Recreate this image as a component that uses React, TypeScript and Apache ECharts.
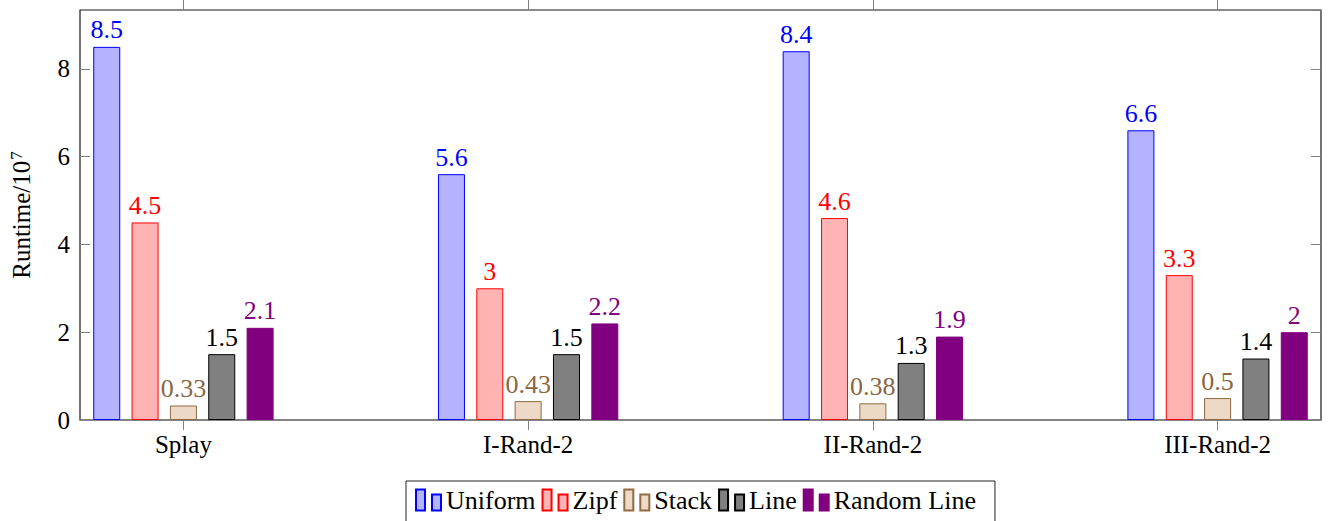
import React, { useEffect, useRef } from "react";
import * as echarts from "echarts";

const categories = ["Splay", "I-Rand-2", "II-Rand-2", "III-Rand-2"];
const uniform = [8.5, 5.6, 8.4, 6.6];
const zipf = [4.5, 3, 4.6, 3.3];
const stack = [0.33, 0.43, 0.38, 0.5];
const line = [1.5, 1.5, 1.3, 1.4];
const randomLine = [2.1, 2.2, 1.9, 2];
const yTicks = [0, 2, 4, 6, 8];

const FONT = "Liberation Serif";

const seriesDefs = [
  { name: "Uniform", data: uniform, fill: "#b3b3ff", edge: "#0000ff", label: "#0000ff" },
  { name: "Zipf", data: zipf, fill: "#ffb3b3", edge: "#ff0000", label: "#ff0000" },
  { name: "Stack", data: stack, fill: "#ecd9c6", edge: "#8f6a45", label: "#8a6642" },
  { name: "Line", data: line, fill: "#808080", edge: "#000000", label: "#000000" },
  { name: "Random Line", data: randomLine, fill: "#800080", edge: "#800080", label: "#800080" },
];

const legendIcon = "path://M0,0H9V21H0Z M16,5H25V21H16Z";

export default function App() {
  const ref = useRef<HTMLDivElement>(null);
  useEffect(() => {
    document.body.style.margin = "0";
    const chart = echarts.init(ref.current!, null, { renderer: "svg" });
    const catIdx = categories.map((_, i) => i);
    chart.setOption({
      animation: false,
      backgroundColor: "#ffffff",
      textStyle: { fontFamily: FONT },
      grid: {
        left: 80,
        top: 10,
        width: 1241,
        height: 410,
        show: true,
        borderColor: "#1a1a1a",
        borderWidth: 1.2,
        backgroundColor: "transparent",
      },
      legend: {
        left: 406,
        top: 481,
        padding: [6, 19, 14, 9],
        borderColor: "#222",
        borderWidth: 1,
        backgroundColor: "#fff",
        itemGap: 6,
        itemWidth: 25,
        itemHeight: 21,
        icon: legendIcon,
        textStyle: { fontFamily: FONT, fontSize: 26, color: "#000" },
        data: seriesDefs.map((s) => s.name),
      },
      xAxis: [
        {
          type: "value",
          position: "bottom",
          min: -0.3,
          max: 3.3,
          splitLine: { show: false },
          axisLine: { show: true, onZero: false, lineStyle: { color: "#808080", width: 1.5 } },
          axisTick: {
            show: true,
            inside: false,
            length: 10,
            customValues: catIdx,
            lineStyle: { color: "#808080" },
          },
          axisLabel: {
            show: true,
            customValues: catIdx,
            formatter: (v: number) => categories[Math.round(v)] ?? "",
            fontFamily: FONT,
            fontSize: 25,
            color: "#000",
            margin: 12,
          },
        },
        {
          type: "value",
          position: "top",
          min: -0.3,
          max: 3.3,
          splitLine: { show: false },
          axisLine: { show: false, onZero: false },
          axisTick: {
            show: true,
            inside: false,
            length: 10,
            customValues: catIdx,
            lineStyle: { color: "#808080" },
          },
          axisLabel: { show: false },
        },
      ],
      yAxis: [
        {
          type: "value",
          min: 0,
          max: 9.34,
          interval: 2,
          position: "left",
          name: "{a|Runtime/10}{s|7}",
          nameLocation: "middle",
          nameGap: 45,
          nameTextStyle: {
            rich: {
              a: { fontFamily: FONT, fontSize: 25, color: "#000" },
              s: { fontFamily: FONT, fontSize: 17, color: "#000", verticalAlign: "top", padding: [0, 0, 10, 1] },
            },
          },
          splitLine: { show: false },
          axisLine: { show: false, onZero: false },
          axisTick: { show: true, inside: true, length: 10, lineStyle: { color: "#808080" } },
          axisLabel: {
            fontFamily: FONT,
            fontSize: 25,
            color: "#000",
            margin: 10,
            showMaxLabel: false,
            formatter: (v: number) => (yTicks.includes(v) ? String(v) : ""),
          },
        },
        {
          type: "value",
          min: 0,
          max: 9.34,
          interval: 2,
          position: "right",
          splitLine: { show: false },
          axisLine: { show: false, onZero: false },
          axisTick: { show: true, inside: true, length: 10, lineStyle: { color: "#808080" } },
          axisLabel: { show: false },
        },
      ],
      series: seriesDefs.map((s) => ({
        name: s.name,
        type: "bar",
        xAxisIndex: 0,
        yAxisIndex: 0,
        barWidth: 27,
        barGap: "42%",
        data: s.data.map((v, i) => [catIdx[i], v]),
        itemStyle: { color: s.fill, borderColor: s.edge, borderWidth: 1 },
        label: {
          show: true,
          position: "top",
          distance: 4,
          fontFamily: FONT,
          fontSize: 26,
          color: s.label,
          formatter: (p: any) => String(p.value[1]),
        },
      })),
    });
    return () => chart.dispose();
  }, []);
  return <div ref={ref} style={{ width: 1330, height: 521 }} />;
}
